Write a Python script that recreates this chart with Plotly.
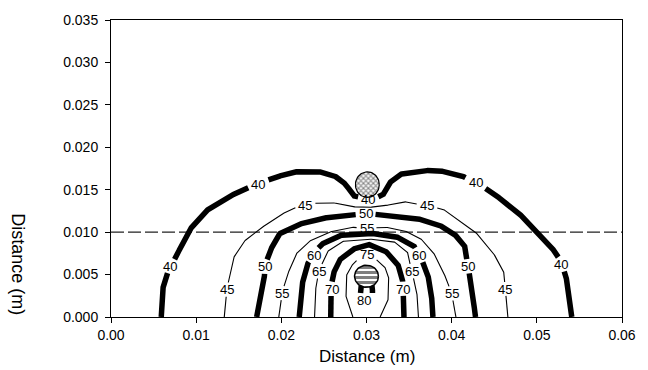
import numpy as np
import plotly.graph_objects as go

# ---------------------------------------------------------------------------
# Isotherms across the section: each level is traced as a path of (x, y)
# points in metres; the *_lab lists give the vertices where the level value
# is printed (the line is broken around the printed value).
# ---------------------------------------------------------------------------
c40_x = [0.0059, 0.0060, 0.0069, 0.0076, 0.0090, 0.0110, 0.01365, 0.0160, 0.0173, 0.0186,
         0.0213, 0.0240, 0.0259, 0.0268, 0.0277, 0.0284, 0.0302, 0.0319, 0.0325, 0.0338,
         0.0360, 0.0382, 0.0409, 0.0428, 0.0444, 0.0474, 0.0501, 0.0524, 0.0528, 0.0534, 0.0541]
c40_y = [0.0000, 0.0031, 0.0060, 0.0070, 0.0100, 0.0124, 0.0141, 0.0152, 0.0156, 0.0162,
         0.0171, 0.0172, 0.0168, 0.0163, 0.0155, 0.0143, 0.0139, 0.0143, 0.0156, 0.0168,
         0.0172, 0.0173, 0.0168, 0.0158, 0.0149, 0.0127, 0.0100, 0.0074, 0.0062, 0.0050, 0.0000]
c40_lab = [2, 8, 16, 23, 28]

c45_x = [0.0133, 0.0136, 0.0139, 0.0144, 0.0156, 0.0175, 0.0198, 0.0217, 0.0228, 0.0240,
         0.0259, 0.0282, 0.0301, 0.0321, 0.0344, 0.0371, 0.0390, 0.0409, 0.0428, 0.0448,
         0.0461, 0.0463, 0.0466]
c45_y = [0.0000, 0.0032, 0.0047, 0.0070, 0.0089, 0.0104, 0.0120, 0.0129, 0.0131, 0.0134,
         0.0135, 0.0130, 0.0129, 0.0131, 0.0136, 0.0131, 0.0127, 0.0114, 0.0100, 0.0077,
         0.0054, 0.0033, 0.0000]
c45_lab = [1, 8, 15, 21]

c50_x = [0.0171, 0.0179, 0.0181, 0.0185, 0.0196, 0.0217, 0.0244, 0.0282, 0.0299, 0.0321,
         0.0355, 0.0382, 0.0401, 0.0415, 0.0419, 0.0423, 0.0428]
c50_y = [0.0000, 0.0035, 0.0059, 0.0074, 0.0097, 0.0108, 0.0116, 0.0120, 0.0122, 0.0120,
         0.0117, 0.0110, 0.0100, 0.0085, 0.0060, 0.0039, 0.0000]
c50_lab = [2, 8, 14]

c55_x = [0.0197, 0.0201, 0.0206, 0.0217, 0.0232, 0.0256, 0.0282, 0.0300, 0.0321, 0.0344,
         0.0363, 0.0378, 0.0390, 0.0400, 0.0405]
c55_y = [0.0000, 0.0028, 0.0047, 0.0074, 0.0089, 0.0100, 0.0106, 0.0104, 0.0106, 0.0102,
         0.0093, 0.0077, 0.0054, 0.0028, 0.0000]
c55_lab = [1, 7, 13]

c60_x = [0.0221, 0.0223, 0.0229, 0.0238, 0.0246, 0.0267, 0.0301, 0.0332, 0.0355, 0.0362,
         0.0371, 0.0376, 0.0378]
c60_y = [0.0000, 0.0031, 0.0060, 0.0073, 0.0085, 0.0096, 0.0099, 0.0096, 0.0085, 0.0073,
         0.0054, 0.0031, 0.0000]
c60_lab = [3, 9]

c65_x = [0.0239, 0.0240, 0.0244, 0.0254, 0.0271, 0.0301, 0.0332, 0.0348, 0.0353, 0.0359, 0.0361]
c65_y = [0.0000, 0.0031, 0.0054, 0.0077, 0.0089, 0.0092, 0.0089, 0.0077, 0.0054, 0.0031, 0.0000]
c65_lab = [2, 8]

c70_x = [0.0258, 0.0258, 0.0259, 0.0260, 0.0267, 0.0282, 0.0301, 0.0321, 0.0336, 0.0342,
         0.0343, 0.0344]
c70_y = [0.0000, 0.0020, 0.0033, 0.0048, 0.0066, 0.0079, 0.0086, 0.0079, 0.0064, 0.0048,
         0.0033, 0.0000]
c70_lab = [2, 10]

c75_x = [0.0284, 0.0276, 0.0276, 0.0282, 0.0290, 0.0300, 0.0311, 0.0321, 0.0326, 0.0326, 0.0316]
c75_y = [0.0000, 0.0022, 0.0048, 0.0060, 0.0068, 0.0074, 0.0068, 0.0060, 0.0048, 0.0022, 0.0000]
c75_lab = [5]

c80_x = [0.0297, 0.0293, 0.0293, 0.0295, 0.0300, 0.0305, 0.0307, 0.0307, 0.0297]
c80_y = [0.0020, 0.0026, 0.0038, 0.0047, 0.0050, 0.0047, 0.0038, 0.0026, 0.0020]
c80_lab = [0]

levels = [40, 45, 50, 55, 60, 65, 70, 75, 80]
paths_x = [c40_x, c45_x, c50_x, c55_x, c60_x, c65_x, c70_x, c75_x, c80_x]
paths_y = [c40_y, c45_y, c50_y, c55_y, c60_y, c65_y, c70_y, c75_y, c80_y]
paths_lab = [c40_lab, c45_lab, c50_lab, c55_lab, c60_lab, c65_lab, c70_lab, c75_lab, c80_lab]

# Probe positions (m): the upper cross-hatched one and the lower striped one
probe_top = (0.0301, 0.0156)
probe_bottom = (0.0300, 0.0048)

# Reference depth drawn as a dashed line
ref_depth = 0.010

x_ticks = [0.00, 0.01, 0.02, 0.03, 0.04, 0.05, 0.06]
y_ticks = [0.000, 0.005, 0.010, 0.015, 0.020, 0.025, 0.030, 0.035]
x_ticktext = ["0.00", "0.01", "0.02", "0.03", "0.04", "0.05", "0.06"]
y_ticktext = ["0.000", "0.005", "0.010", "0.015", "0.020", "0.025", "0.030", "0.035"]

# ---------------------------------------------------------------------------
# Layout geometry
# ---------------------------------------------------------------------------
W, H = 648, 370
M = dict(l=111, r=16, t=14, b=53)
X_RANGE = [0.0, 0.06]
Y_RANGE = [0.0, 0.035]
PLOT_W = W - M["l"] - M["r"]
PLOT_H = H - M["t"] - M["b"]
sx = PLOT_W / (X_RANGE[1] - X_RANGE[0])   # px per metre, x
sy = PLOT_H / (Y_RANGE[1] - Y_RANGE[0])   # px per metre, y

FONT = "Liberation Sans, Arial, sans-serif"
LABEL_SIZE = 13
LABEL_HALF_W = 10.0   # px, half-width of the gap left for a value label
LABEL_HALF_H = 7.0    # px, half-height of that gap


def broken_path(xs, ys, lab_idx):
    """Resample a path finely and leave gaps where its labels sit."""
    centers = [(xs[k], ys[k]) for k in lab_idx]
    px, py = [], []
    for i in range(len(xs) - 1):
        seg = np.hypot((xs[i + 1] - xs[i]) * sx, (ys[i + 1] - ys[i]) * sy)
        n = max(2, int(seg * 2))
        for t in np.linspace(0, 1, n, endpoint=False):
            px.append(xs[i] + (xs[i + 1] - xs[i]) * t)
            py.append(ys[i] + (ys[i + 1] - ys[i]) * t)
    px.append(xs[-1])
    py.append(ys[-1])
    out_x, out_y = [], []
    for x, y in zip(px, py):
        hidden = any(abs(x - cx) * sx < LABEL_HALF_W and abs(y - cy) * sy < LABEL_HALF_H
                     for cx, cy in centers)
        if hidden:
            if out_x and out_x[-1] is not None:
                out_x.append(None)
                out_y.append(None)
        else:
            out_x.append(x)
            out_y.append(y)
    return out_x, out_y


def ellipse(center, rx, ry, n=60):
    t = np.linspace(0, 2 * np.pi, n)
    return center[0] + rx * np.cos(t), center[1] + ry * np.sin(t)


fig = go.Figure()

# Isotherm lines: every 10 degrees drawn heavy, the intermediate ones light
for lev, xs, ys, lab in zip(levels, paths_x, paths_y, paths_lab):
    bx, by = broken_path(xs, ys, lab)
    heavy = lev % 10 == 0
    fig.add_trace(go.Scatter(
        x=bx, y=by, mode="lines", connectgaps=False,
        line=dict(color="black", width=5.5 if heavy else 1.1),
        hoverinfo="skip", showlegend=False,
    ))

# Probes
ex, ey = ellipse(probe_top, 0.00140, 0.00150)
fig.add_trace(go.Scatter(
    x=ex, y=ey, mode="lines", fill="toself", fillcolor="white",
    fillpattern=dict(shape="x", fgcolor="black", bgcolor="white", size=3.5, solidity=0.5),
    line=dict(color="black", width=1.2), hoverinfo="skip", showlegend=False,
))
ex, ey = ellipse(probe_bottom, 0.00140, 0.00130)
fig.add_trace(go.Scatter(
    x=ex, y=ey, mode="lines", fill="toself", fillcolor="white",
    fillpattern=dict(shape="-", fgcolor="black", bgcolor="white", size=5, solidity=0.6),
    line=dict(color="black", width=1.5), hoverinfo="skip", showlegend=False,
))

# Level values printed along the lines
annotations = []
for lev, xs, ys, lab in zip(levels, paths_x, paths_y, paths_lab):
    for k in lab:
        annotations.append(dict(
            x=xs[k], y=ys[k], xref="x", yref="y", text=str(lev), showarrow=False,
            font=dict(family=FONT, size=LABEL_SIZE, color="black"),
            xanchor="center", yanchor="middle",
        ))

# Axis titles (the vertical one reads top to bottom)
annotations.append(dict(
    x=0.5, y=-40 / PLOT_H, xref="paper", yref="paper",
    text="Distance (m)", showarrow=False, xanchor="center", yanchor="middle",
    font=dict(family=FONT, size=17, color="black"),
))
annotations.append(dict(
    x=-95 / PLOT_W, y=(317 - 263) / PLOT_H,
    xref="paper", yref="paper", text="Distance (m)", textangle=90, showarrow=False,
    xanchor="center", yanchor="middle",
    font=dict(family=FONT, size=18, color="black"),
))

fig.update_layout(
    width=W, height=H, margin=dict(M, pad=0),
    paper_bgcolor="white", plot_bgcolor="white", showlegend=False,
    annotations=annotations,
    shapes=[dict(
        type="line", xref="paper", yref="y", x0=0, x1=1, y0=ref_depth, y1=ref_depth,
        line=dict(color="#222", width=1.2, dash="13px,4px"), layer="below",
    )],
    xaxis=dict(
        range=X_RANGE, tickvals=x_ticks, ticktext=x_ticktext,
        showline=True, linecolor="black", linewidth=1, mirror=True,
        ticks="outside", ticklen=5, tickcolor="black", tickwidth=1,
        ticklabelstandoff=0,
        showgrid=False, zeroline=False,
        tickfont=dict(family=FONT, size=14, color="black"),
    ),
    yaxis=dict(
        range=Y_RANGE, tickvals=y_ticks, ticktext=y_ticktext,
        showline=True, linecolor="black", linewidth=1, mirror=True,
        ticks="outside", ticklen=5, tickcolor="black", tickwidth=1,
        ticklabelstandoff=4,
        showgrid=False, zeroline=False,
        tickfont=dict(family=FONT, size=14, color="black"),
    ),
)

fig.write_html("out.html")
